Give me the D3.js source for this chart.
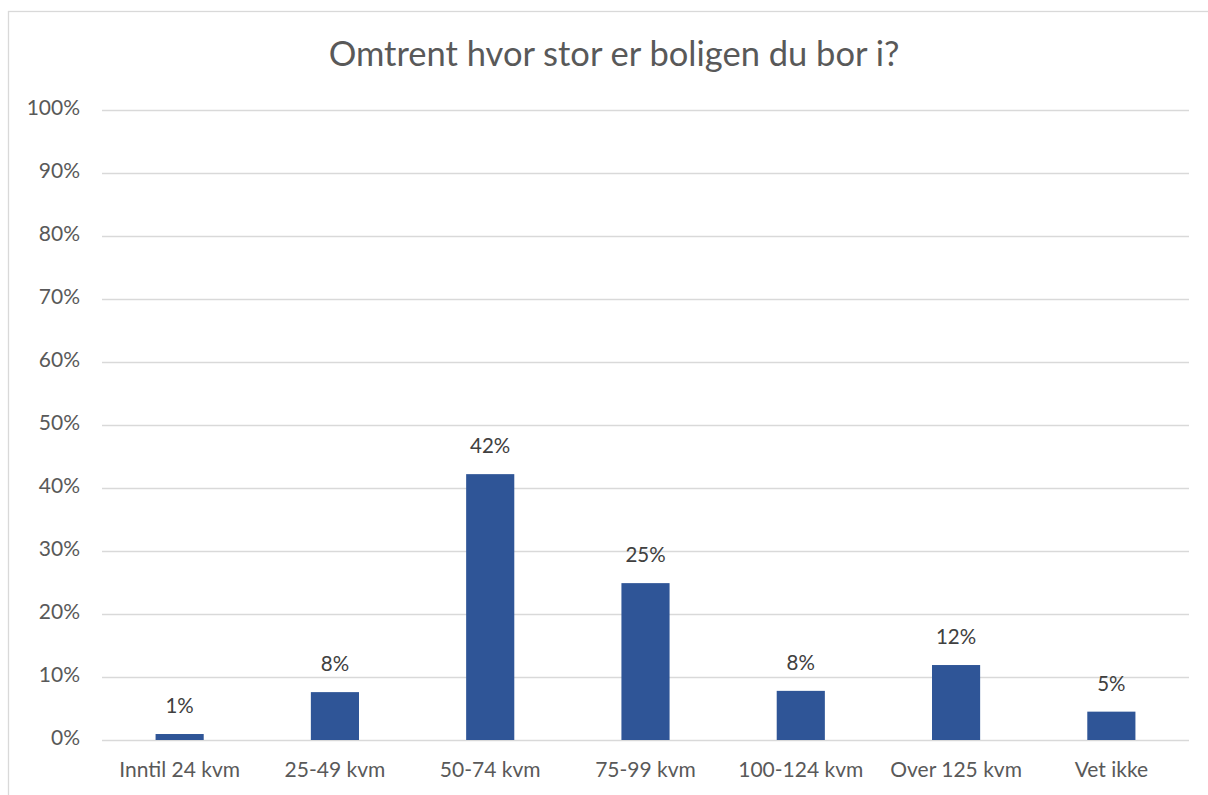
<!DOCTYPE html>
<html>
<head>
<title>Omtrent hvor stor er boligen du bor i?</title>
<script src="https://d3js.org/d3.v7.min.js"></script>
<style>
body { margin: 0; background: #fff; }
text { font-family: Lato, "Open Sans", sans-serif; }
</style>
</head>
<body>
<script>

var categories = ["Inntil 24 kvm", "25-49 kvm", "50-74 kvm", "75-99 kvm", "100-124 kvm", "Over 125 kvm", "Vet ikke"];
var values = [0.95, 7.6, 42.2, 24.9, 7.8, 11.9, 4.5];
var labels = ["1%", "8%", "42%", "25%", "8%", "12%", "5%"];
var yTicks = [0, 10, 20, 30, 40, 50, 60, 70, 80, 90, 100];

var W = 1208, H = 795;
var plotLeft = 102, plotRight = 1189, plotTop = 110, plotBottom = 740;

var svg = d3.select("body").append("svg")
	.attr("width", W)
	.attr("height", H);

// chart border
svg.append("rect")
	.attr("x", 8.5).attr("y", 11.5)
	.attr("width", 1220).attr("height", 800)
	.attr("fill", "none")
	.attr("stroke", "#d9d9d9")
	.attr("stroke-width", 1.3);

svg.append("text")
	.attr("x", 614).attr("y", 57)
	.attr("text-anchor", "middle")
	.attr("dominant-baseline", "middle")
	.attr("font-size", 34.5)
	.attr("fill", "#595959")
	.text("Omtrent hvor stor er boligen du bor i?");

var x = d3.scaleBand().domain(categories).range([plotLeft, plotRight]).paddingInner(0.69).paddingOuter(0.345);
var y = d3.scaleLinear().domain([0, 100]).range([plotBottom, plotTop]);

// gridlines
svg.append("g").selectAll("line")
	.data(yTicks)
	.enter().append("line")
	.attr("x1", plotLeft).attr("x2", plotRight)
	.attr("y1", function(d){ return Math.round(y(d)) + 0.5; })
	.attr("y2", function(d){ return Math.round(y(d)) + 0.5; })
	.attr("stroke", "#d9d9d9")
	.attr("stroke-width", 1.3);

// y tick labels
svg.append("g").selectAll("text")
	.data(yTicks)
	.enter().append("text")
	.attr("x", 80)
	.attr("y", function(d){ return y(d); })
	.attr("text-anchor", "end")
	.attr("dominant-baseline", "middle")
	.attr("font-size", 21)
	.attr("fill", "#595959")
	.text(function(d){ return d + "%"; });

// bars
svg.append("g").selectAll("rect")
	.data(values)
	.enter().append("rect")
	.attr("x", function(d, i){ return x(categories[i]); })
	.attr("y", function(d){ return y(d); })
	.attr("width", x.bandwidth())
	.attr("height", function(d){ return plotBottom - y(d); })
	.attr("fill", "#2f5597");

// data labels
svg.append("g").selectAll("text")
	.data(values)
	.enter().append("text")
	.attr("x", function(d, i){ return x(categories[i]) + x.bandwidth() / 2; })
	.attr("y", function(d){ return y(d) - 26; })
	.attr("text-anchor", "middle")
	.attr("dominant-baseline", "middle")
	.attr("font-size", 20.5)
	.attr("fill", "#404040")
	.text(function(d, i){ return labels[i]; });

// category labels
svg.append("g").selectAll("text")
	.data(categories)
	.enter().append("text")
	.attr("x", function(d){ return x(d) + x.bandwidth() / 2; })
	.attr("y", 772)
	.attr("text-anchor", "middle")
	.attr("dominant-baseline", "middle")
	.attr("font-size", 21)
	.attr("fill", "#595959")
	.text(function(d){ return d; });

</script>
</body>
</html>
